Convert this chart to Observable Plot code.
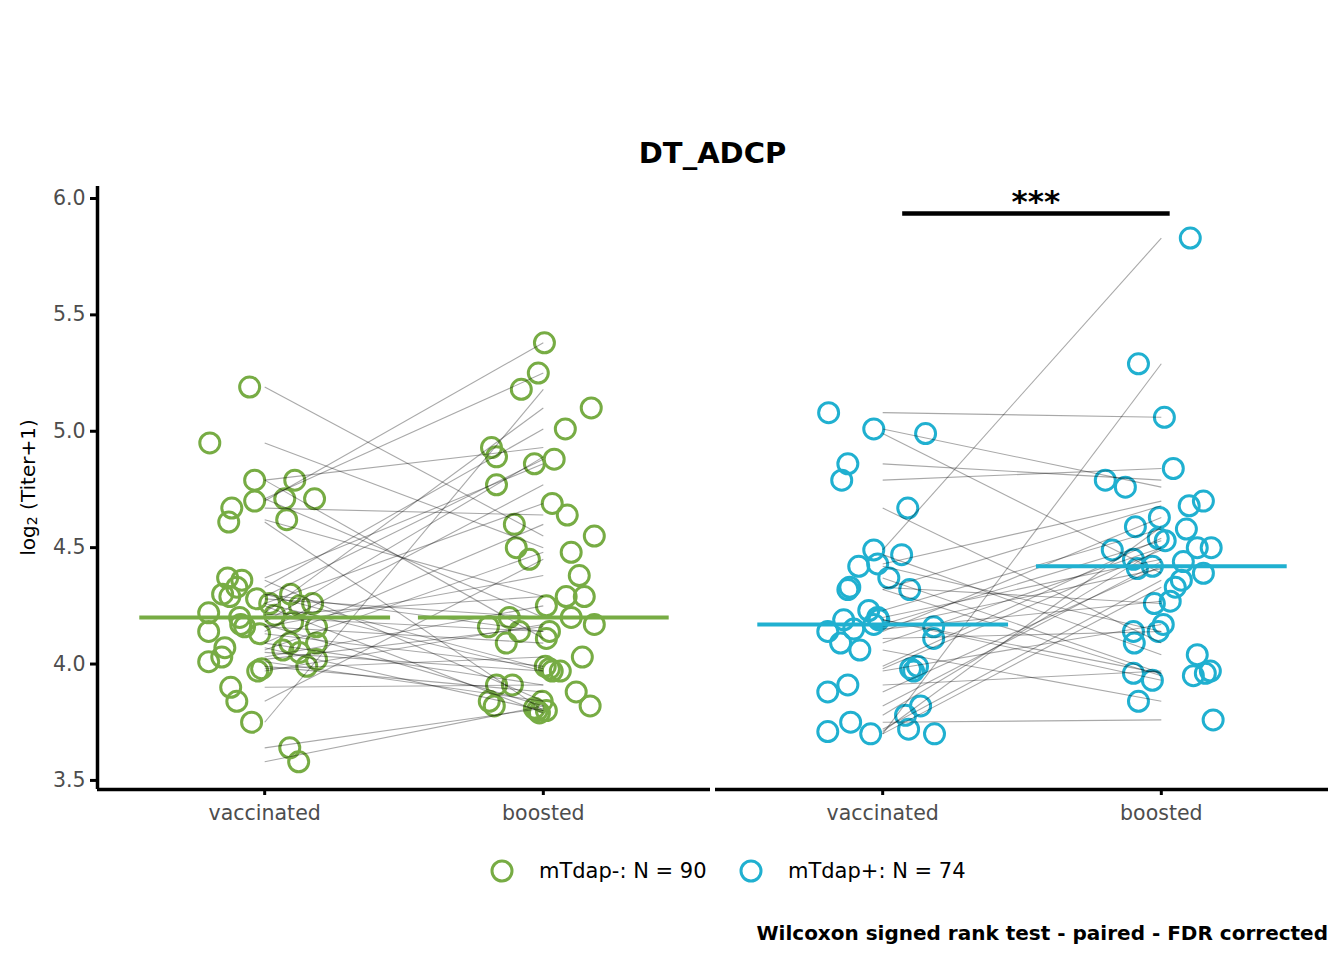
<!DOCTYPE html>
<html>
<head>
<meta charset="utf-8">
<script src="https://cdn.jsdelivr.net/npm/d3@7"></script>
<script src="https://cdn.jsdelivr.net/npm/@observablehq/plot@0.6"></script>
<style>
  body { margin: 0; background: #fff; }
  #wrap { position: relative; width: 1344px; height: 960px; font-family: "DejaVu Sans", sans-serif; color: #000; }
  #title { position: absolute; left: 0; width: 1425px; top: 136px; text-align: center; font-size: 29px; line-height: 34px; font-weight: bold; }
  #chart { position: absolute; left: 0; top: 170px; }
  #legend { position: absolute; left: 0; top: 856px; width: 1344px; height: 30px; font-size: 21px; }
  .li { position: absolute; top: 0; height: 30px; line-height: 30px; }
  #caption { position: absolute; right: 16px; top: 920px; font-size: 20px; line-height: 26px; font-weight: bold; }
  #chart g[aria-label$="tick label"] { fill: #4D4D4D; }
</style>
</head>
<body>
<div id="wrap">
  <div id="title"></div>
  <div id="chart"></div>
  <div id="legend"></div>
  <div id="caption"></div>
</div>
<script>
// ---- data ----
const titleText = "DT_ADCP";
const captionText = "Wilcoxon signed rank test - paired - FDR corrected";
const yLabelMain = "log";
const yLabelSub = "2";
const yLabelRest = " (Titer+1)";
const groups = ["mTdap-", "mTdap+"];
const groupColors = ["#77AC44", "#20B0D0"];
const timepoints = ["vaccinated", "boosted"];
const yTicks = [3.5, 4.0, 4.5, 5.0, 5.5, 6.0];
const yDomain = [3.461, 6.0515];
const xDomain = [-0.6, 1.6];

// mTdap- paired subjects (vaccinated[i] -> boosted[i])
const negVaccinated = [5.19,4.95,4.79,4.79,4.70,4.71,4.71,4.67,4.61,4.62,4.37,4.36,4.33,4.30,4.29,4.28,4.30,4.22,4.26,4.26,4.25,4.14,4.17,4.16,4.13,4.18,4.16,4.09,4.09,4.06,4.07,4.03,4.01,4.02,3.99,3.97,3.98,3.90,3.84,3.75,3.64,3.58,4.21,4.20,4.05];
const negBoosted = [4.55,4.50,4.93,4.11,5.38,5.25,4.20,4.64,3.80,4.29,4.86,3.84,5.01,3.98,4.88,4.20,4.14,5.10,3.97,4.69,3.79,4.77,3.82,4.38,3.99,4.89,4.09,4.60,3.91,4.48,3.80,4.25,3.84,4.16,3.88,4.17,4.03,3.91,4.45,5.18,3.81,3.82,4.29,4.14,3.97];
// horizontal jitter of the drawn points (category units)
const negVaccJitter = [-0.054,-0.197,-0.036,0.108,-0.036,0.072,0.179,-0.118,-0.129,0.079,-0.133,-0.082,-0.100,-0.151,-0.125,-0.029,0.093,-0.201,0.018,0.172,0.125,-0.201,-0.086,-0.072,-0.018,0.100,0.186,0.186,0.090,0.065,-0.143,-0.154,-0.201,0.186,0.151,-0.025,-0.011,-0.122,-0.100,-0.047,0.090,0.122,0.036,-0.090,0.125];
const negBoostJitter = [0.183,-0.097,-0.186,0.011,0.004,-0.018,0.100,0.086,0.011,0.082,-0.032,-0.194,0.079,0.022,0.039,-0.122,-0.086,0.172,0.061,0.032,-0.014,-0.168,-0.176,0.129,0.007,-0.168,-0.133,-0.104,-0.168,0.100,-0.022,0.011,-0.004,-0.197,0.118,0.183,0.140,-0.111,-0.050,-0.079,-0.032,0.168,0.147,0.022,0.032];

// mTdap+ paired subjects
const posVaccinated = [5.08,5.01,4.99,4.86,4.79,4.67,4.49,4.47,4.42,4.43,4.37,4.32,4.33,4.32,4.23,4.20,4.17,4.19,4.14,4.15,4.09,4.06,4.16,4.11,3.98,3.99,3.97,3.88,3.91,3.82,3.78,3.75,3.71,3.70,3.72,3.70,4.19];
const posBoosted = [5.06,4.76,4.39,4.79,4.84,4.09,5.83,4.04,4.14,4.70,3.96,4.68,4.26,3.95,4.58,4.45,4.53,3.93,4.63,4.27,4.50,3.84,4.41,4.14,4.49,4.54,4.17,4.42,3.97,4.44,4.50,3.76,4.59,5.29,4.36,4.33,3.96];
const posVaccJitter = [-0.194,-0.032,0.154,-0.125,-0.147,0.090,-0.032,0.068,-0.086,-0.018,0.022,0.097,-0.118,-0.125,-0.050,-0.018,-0.032,-0.140,-0.197,-0.104,-0.151,-0.082,0.183,0.183,0.100,0.125,0.111,-0.197,-0.125,0.136,0.082,-0.115,-0.197,-0.043,0.093,0.186,-0.014];
const posBoostJitter = [0.011,-0.129,0.151,-0.201,0.043,-0.097,0.104,0.129,-0.011,0.151,0.158,0.100,-0.025,0.115,0.090,-0.100,0.014,-0.032,-0.007,0.032,0.129,-0.082,-0.086,-0.100,-0.176,-0.011,0.007,-0.032,0.176,0.079,0.179,0.186,-0.093,-0.082,0.072,0.050,-0.100];

// significance annotation
const sigGroup = ["mTdap+"];
const sigFrom = [0.07];
const sigTo = [1.03];
const sigY = [5.935];
const sigLabel = ["***"];

// ---- tables built from the arrays ----
const groupData = [
  {group: groups[0], vacc: negVaccinated, boost: negBoosted, vj: negVaccJitter, bj: negBoostJitter},
  {group: groups[1], vacc: posVaccinated, boost: posBoosted, vj: posVaccJitter, bj: posBoostJitter}
];
const pairs = [], points = [], medians = [];
for (const g of groupData) {
  g.vacc.forEach((v, i) => {
    pairs.push({group: g.group, vaccinated: v, boosted: g.boost[i]});
    points.push({group: g.group, pos: 0, value: v, jitter: g.vj[i]});
    points.push({group: g.group, pos: 1, value: g.boost[i], jitter: g.bj[i]});
  });
  medians.push({group: g.group, pos: 0, value: d3.median(g.vacc)});
  medians.push({group: g.group, pos: 1, value: d3.median(g.boost)});
}
const sig = sigGroup.map((g, i) => ({group: g, x1: sigFrom[i], x2: sigTo[i], y: sigY[i], label: sigLabel[i]}));

const W = 1344, H = 680, mT = 16, mB = 61, mL = 97, mR = 16;

const chart = Plot.plot({
  width: W, height: H,
  marginLeft: mL, marginRight: mR, marginTop: mT, marginBottom: mB,
  style: {fontFamily: "DejaVu Sans, sans-serif", background: "transparent", overflow: "visible"},
  fx: {domain: groups, axis: null, paddingInner: 5 / 618, paddingOuter: 0, label: null},
  x: {domain: xDomain},
  y: {domain: yDomain},
  color: {domain: groups, range: groupColors},
  marks: [
    Plot.dot(points, {x: d => d.pos + d.jitter, y: "value", fx: "group", stroke: "group", r: 10, strokeWidth: 3, fill: "none"}),
    Plot.link(pairs, {x1: () => 0, x2: () => 1, y1: "vaccinated", y2: "boosted", fx: "group", stroke: "#000", strokeOpacity: 0.34, strokeWidth: 1.1}),
    Plot.link(medians, {x1: d => d.pos - 0.45, x2: d => d.pos + 0.45, y1: "value", y2: "value", fx: "group", stroke: "group", strokeWidth: 4}),
    Plot.link(sig, {x1: "x1", x2: "x2", y1: "y", y2: "y", fx: "group", stroke: "#000", strokeWidth: 4.5}),
    Plot.text(sig, {x: d => (d.x1 + d.x2) / 2, y: "y", text: "label", fx: "group", fontSize: 31, fontWeight: "bold", dy: -12, fill: "#000"}),
    Plot.ruleY([yDomain[0]], {stroke: "#000", strokeWidth: 3.5}),
    Plot.ruleX([groups[0]], {x: () => xDomain[0], fx: d => d, y1: () => yDomain[0], y2: () => yDomain[1], stroke: "#000", strokeWidth: 3.5}),
    Plot.axisY({ticks: yTicks, tickFormat: d => d.toFixed(1), tickSize: 7, tickPadding: 5, strokeWidth: 3, fontSize: 20.5, label: null}),
    Plot.axisX({ticks: [0, 1], tickFormat: i => timepoints[i], tickSize: 6, tickPadding: 10, strokeWidth: 3, fontSize: 20.5, label: null})
  ]
});
document.getElementById("chart").appendChild(chart);

// y-axis title with subscript
const svg = d3.select(chart);
const yc = mT + (H - mT - mB) / 2;
const yl = svg.append("text")
  .attr("transform", `translate(28,${yc}) rotate(-90)`)
  .attr("text-anchor", "middle")
  .attr("dominant-baseline", "central")
  .attr("font-size", 20)
  .attr("font-family", "DejaVu Sans, sans-serif")
  .attr("fill", "#000");
yl.append("tspan").text(yLabelMain);
yl.append("tspan").attr("font-size", 14).attr("baseline-shift", "-30%").text(yLabelSub);
yl.append("tspan").text(yLabelRest);

document.getElementById("title").textContent = titleText;
document.getElementById("caption").textContent = captionText;

// legend
const legend = d3.select("#legend");
const legendCircleX = [502, 751];
groupData.forEach((g, i) => {
  const n = g.vacc.length + g.boost.length;
  const item = legend.append("div").attr("class", "li").style("left", (legendCircleX[i] - 13) + "px");
  const s = item.append("svg").attr("width", 26).attr("height", 30).style("vertical-align", "top");
  s.append("circle").attr("cx", 13).attr("cy", 15).attr("r", 10)
    .attr("fill", "none").attr("stroke", groupColors[i]).attr("stroke-width", 3);
  item.append("span").style("margin-left", "24px").text(`${g.group}: N = ${n}`);
});
</script>
</body>
</html>
